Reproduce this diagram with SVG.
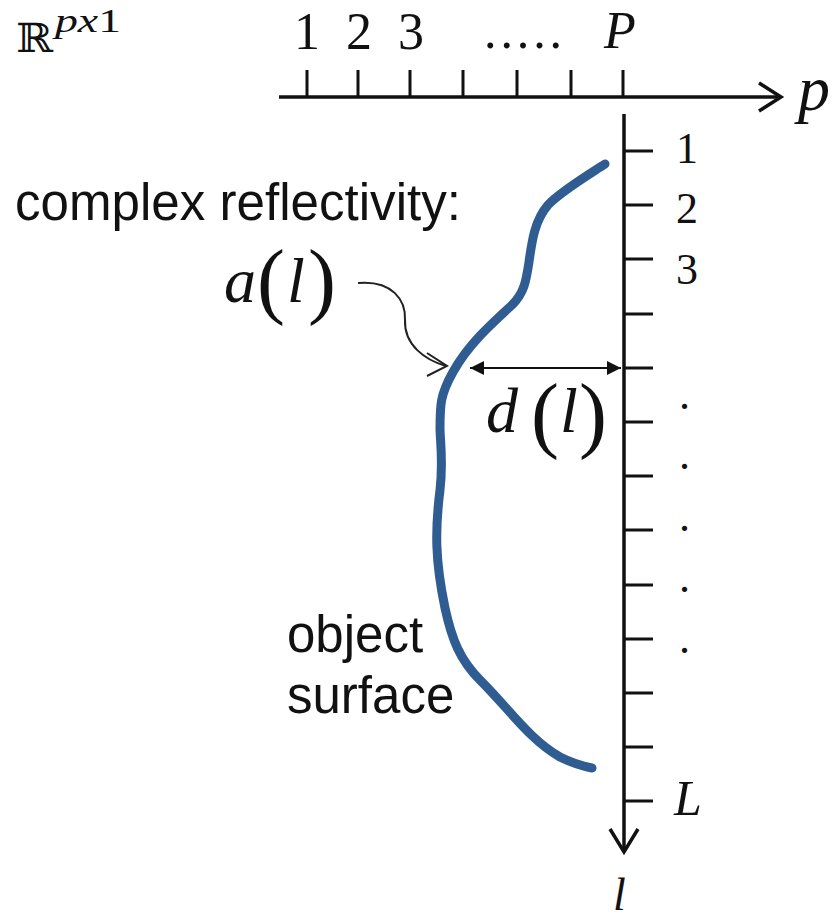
<svg xmlns="http://www.w3.org/2000/svg" width="840" height="922" viewBox="0 0 840 922">
<style>
.ax{stroke:#111;stroke-width:3.5;fill:none}
.tk{stroke:#111;stroke-width:3;fill:none}
.chev{stroke:#111;stroke-width:3.5;fill:none;stroke-linejoin:miter}
.ser{font-family:"Liberation Serif","Times New Roman",serif;fill:#111}
.it{font-style:italic}
.sans{font-family:"Liberation Sans",Arial,sans-serif;fill:#111}
.surf{stroke:#2f5d92;stroke-width:9;fill:none;stroke-linecap:round;stroke-linejoin:round}
.par{font-style:normal;font-size:84px}
</style>
<defs>
<marker id="tri" viewBox="0 0 10 10" refX="10" refY="5" markerWidth="28" markerHeight="14" markerUnits="userSpaceOnUse" orient="auto-start-reverse">
<path d="M0,0 L10,5 L0,10 Z" fill="#111"/>
</marker>
</defs>
<rect width="840" height="922" fill="#fff"/>

<g id="space-label">
<text x="16" y="52" style="font-family:'DejaVu Serif','DejaVu Sans',serif;fill:#111" font-size="40" textLength="37" lengthAdjust="spacingAndGlyphs">ℝ</text>
<text class="ser it" x="55" y="32" font-size="34" textLength="66" lengthAdjust="spacingAndGlyphs">px<tspan font-style="normal">1</tspan></text>
</g>

<g id="p-axis">
<line class="ax" x1="279" y1="97" x2="780" y2="97"/>
<polyline class="chev" points="759,83 781,97 759,111"/>
<path class="tk" d="M307,70V97M358,70V97M410,70V97M463,70V97M517,70V97M571,70V97M623,70V97"/>
<text class="ser" font-size="52" y="49" text-anchor="middle"><tspan x="307">1</tspan><tspan x="359">2</tspan><tspan x="411">3</tspan></text>
<text class="ser" font-size="50" x="484" y="48" textLength="78" lengthAdjust="spacing">.....</text>
<text class="ser it" font-size="52" x="604" y="48">P</text>
<text class="ser it" font-size="64" x="798" y="110">p</text>
</g>

<g id="l-axis">
<line class="ax" x1="624" y1="114" x2="624" y2="851"/>
<polyline class="chev" points="610,829 624,852 638,829"/>
<path class="tk" d="M624,151H653M624,205H653M624,259H653M624,314H653M624,368H653M624,422H653M624,476H653M624,530H653M624,585H653M624,639H653M624,693H653M624,747H653M624,801H653"/>
<text class="ser" font-size="44" x="676" y="163">1</text>
<text class="ser" font-size="44" x="676" y="223">2</text>
<text class="ser" font-size="44" x="676" y="284">3</text>
<text class="ser" font-size="44" x="679" y="409">.</text>
<text class="ser" font-size="44" x="679" y="469">.</text>
<text class="ser" font-size="44" x="679" y="531">.</text>
<text class="ser" font-size="44" x="679" y="592">.</text>
<text class="ser" font-size="44" x="679" y="653">.</text>
<text class="ser it" font-size="50" x="674" y="815">L</text>
<text class="ser it" font-size="46" x="613" y="910">l</text>
</g>

<g id="object-surface">
<path class="surf" d="M605,164 C585,177 560,192 548,205 C535,220 532,240 529,262 C526,282 524,293 512,305 C490,325 468,345 453,372 C440,395 440,405 440,430 C441,450 443,465 440,490 C435,530 435,560 445,608 C452,640 460,660 480,680 C510,710 530,740 560,757 C572,763 582,766 592,768"/>
<text class="sans" font-size="51" x="287" y="652">object</text>
<text class="sans" font-size="51" x="287" y="713">surface</text>
</g>

<g id="reflectivity">
<text class="sans" font-size="51" x="15" y="220" textLength="446" lengthAdjust="spacingAndGlyphs">complex reflectivity:</text>
<text class="ser it" font-size="64" x="224" y="302">a<tspan class="par" x="257" y="308">(</tspan><tspan x="287" y="302">l</tspan><tspan class="par" x="308" y="308">)</tspan></text>
</g>

<g id="distance">
<text class="ser it" font-size="64" x="486" y="432">d<tspan class="par" x="531" y="442">(</tspan><tspan x="560" y="432">l</tspan><tspan class="par" x="579" y="442">)</tspan></text>
</g>

<g id="connectors">
<path d="M358,283 C392,280 406,300 405,320 C404,345 425,360 446,366" stroke="#222" stroke-width="2" fill="none"/>
<polyline points="427,353 447,366 427,376" stroke="#222" stroke-width="2" fill="none"/>
<line x1="470" y1="368" x2="621" y2="368" stroke="#111" stroke-width="2.2" marker-start="url(#tri)" marker-end="url(#tri)"/>
</g>
</svg>
